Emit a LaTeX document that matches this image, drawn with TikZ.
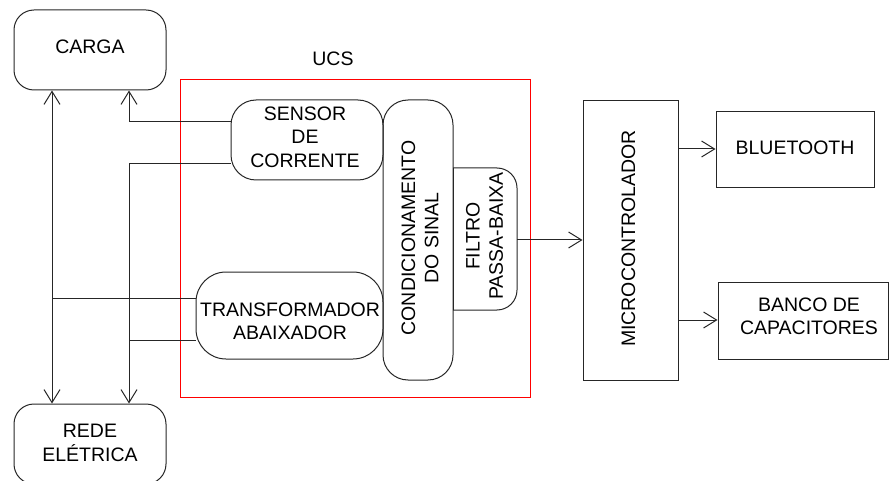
\documentclass[tikz,border=0pt]{standalone}
\usepackage{fontspec}
\setmainfont{Liberation Sans}
\usetikzlibrary{arrows.meta}
\begin{document}
\begin{tikzpicture}[x=1pt,y=-1pt,
  font=\fontsize{19.5}{23.4}\selectfont,
  line width=1pt,
  >={Straight Barb[length=13pt,width=16pt]},
  blk/.style={draw=black!85, line width=1pt, inner sep=0pt, align=center},
  rbox/.style={blk, rounded corners=#1},
  conn/.style={draw=black!85, line width=1pt},
  txt/.style={inner sep=0pt, align=center}]
\useasboundingbox (0,0) rectangle (889,481);
% UCS red frame
\node[draw=red, line width=1pt, minimum width=350pt, minimum height=317pt, inner sep=0pt] (ucsbox) at (355,238.5) {};
\node[txt] (ucs) at (333,58.5) {UCS};
% left boxes
\node[rbox=20pt, minimum width=152pt, minimum height=80pt] (carga) at (90,50) {};
\node[txt] (cargat) at (90,47) {CARGA};
\node[rbox=20pt, minimum width=152pt, minimum height=80pt] (rede) at (90,444) {};
\node[txt] (redet) at (90,443) {REDE\\ELÉTRICA};
% UCS internals
\node[rbox=25pt, minimum width=152pt, minimum height=80pt] (sens) at (307,140) {};
\node[txt] (senst) at (305,137) {SENSOR\\DE\\CORRENTE};
\node[rbox=30pt, minimum width=187pt, minimum height=87pt] (trans) at (289.5,315.5) {};
\node[txt] (transt) at (290,321) {TRANSFORMADOR\\ABAIXADOR};
\node[rbox=25pt, minimum width=70pt, minimum height=280pt] (cond) at (418,240) {};
\node[txt, rotate=90] (condt) at (420,238) {CONDICIONAMENTO\\DO SINAL};
\draw[conn, rounded corners=20pt] (453,168) -- (517,168) -- (517,310) -- (453,310);
\draw[conn] (453,168) -- (453,310);
\coordinate (filtE) at (517,240);
\node[txt, rotate=90] (filt) at (484.5,236) {FILTRO\\PASSA-BAIXA};
% right boxes
\node[blk, minimum width=95pt, minimum height=279pt] (micro) at (630.5,240.5) {};
\node[txt, rotate=90] (microt) at (628.5,238.5) {MICROCONTROLADOR};
\node[blk, minimum width=158pt, minimum height=76pt] (bt) at (795,150) {};
\node[txt] (btt) at (795,147.5) {BLUETOOTH};
\node[blk, minimum width=170pt, minimum height=77pt] (banco) at (803,320.5) {};
\node[txt] (bancot) at (809,316.5) {BANCO DE\\CAPACITORES};
% connectors
\draw[conn, <->] (carga.south -| 52,0) -- (rede.north -| 52,0);
\draw[conn, ->] (sens.west |- 0,122) -| (carga.south -| 129,0);
\draw[conn, ->] (sens.west |- 0,164) -| (rede.north -| 129,0);
\coordinate (j1) at (52,298);
\coordinate (j2) at (129,340);
\draw[conn] (trans.west |- j1) -- (j1);
\draw[conn] (trans.west |- j2) -- (j2);
\draw[conn, ->] (filtE) -- (micro.west |- filtE);
\draw[conn, ->] (micro.east |- 0,149) -- (bt.west |- 0,149);
\draw[conn, ->] (micro.east |- 0,320) -- (banco.west |- 0,320);
\end{tikzpicture}
\end{document}
